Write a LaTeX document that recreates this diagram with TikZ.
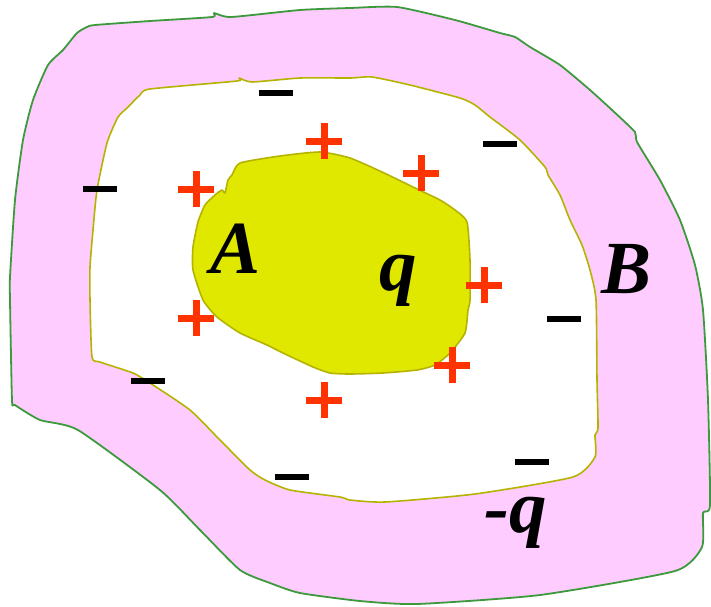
\documentclass[tikz,border=0pt]{standalone}
\usepackage{fontspec}
\setmainfont{Liberation Serif}
\begin{document}
\begin{tikzpicture}[x=1pt,y=-1pt]
\definecolor{shellpink}{HTML}{FFCCFF}
\definecolor{shellgreen}{HTML}{3C9A3C}
\definecolor{cavityline}{HTML}{B4B400}
\definecolor{blobyellow}{HTML}{E0E800}
\definecolor{plusred}{HTML}{FF3300}
\tikzset{
  minussign/.style={line width=6.5pt, draw=black},
  plussign/.style={line width=7pt, draw=plusred},
  lbl/.style={font=\fontsize{75}{75}\selectfont\bfseries\itshape, inner sep=0pt, anchor=base}
}
\useasboundingbox (0,0) rectangle (711,606);
% outer shell B
\filldraw[fill=shellpink, draw=shellgreen, line width=1.8pt, line join=round]
 plot[smooth cycle, tension=0.35] coordinates {
 (95,25) (150,21) (212,17) (214,13) (231,17) (300,10) (350,8) (397,7) (455,20) (500,33) (515,37) (530,47) (560,65) (590,90) (612,110) (635,132) (637,142) (660,180) (680,220) (695,265) (703,310) (708,400) (710,505) (703,513) (702,547) (675,571) (540,595) (417,604) (360,601) (300,593) (270,583) (240,570) (200,530) (160,490) (78,430) (40,420) (15,405) (12,400) (10,300) (10,277) (15,200) (23,140) (33,100) (48,65) (63,50) (77,33) (87,27)};
% cavity
\filldraw[fill=white, draw=cavityline, line width=1.6pt, line join=round]
 plot[smooth cycle, tension=0.35] coordinates {
 (150,89) (237,81) (239,78) (252,82) (300,78) (350,78) (372,77) (410,85) (460,98) (475,105) (490,117) (520,140) (545,167) (548,175) (560,195) (570,220) (582,245) (590,270) (596,300) (597,380) (598,428) (595,435) (595,457) (573,477) (475,494) (385,502) (350,500) (340,497) (290,490) (265,480) (250,470) (220,440) (190,410) (150,383) (133,373) (100,362) (92,357) (90,300) (90,267) (93,230) (97,190) (107,143) (118,117) (127,108) (140,95)};
% conductor A
\filldraw[fill=blobyellow, draw=cavityline, line width=1.6pt, line join=round]
 plot[smooth cycle, tension=0.35] coordinates {
 (240,163) (280,156) (320,152) (350,158) (382,172) (415,188) (440,200) (455,210) (467,222) (470,260) (470,300) (468,310) (465,333) (450,353) (435,365) (417,370) (383,373) (350,374) (330,373) (313,367) (283,353) (267,345) (240,333) (217,317) (203,300) (193,270) (193,247) (198,222) (205,205) (215,195) (222,190) (225,193) (228,180) (232,175)};
% minus signs
\foreach \x/\y [count=\i] in {276/93, 100/189, 500/144, 148/381, 292/477, 564/319, 532/462}
  \draw[minussign] (\x-17,\y) -- (\x+17,\y);
% plus signs
\foreach \x/\y [count=\i] in {324/141, 196/189, 196/318, 421/173, 484/285, 452/365, 324/400}
  \draw[plussign] (\x-18,\y) -- (\x+18,\y) (\x,\y-18) -- (\x,\y+18);
% labels
\node[lbl] (labA) at (236,273) {A};
\node[lbl] (labq) at (398,290) {q};
\node[lbl] (labB) at (627,293) {B};
\node[lbl] (labmq) at (516,532) {-q};
\end{tikzpicture}
\end{document}
